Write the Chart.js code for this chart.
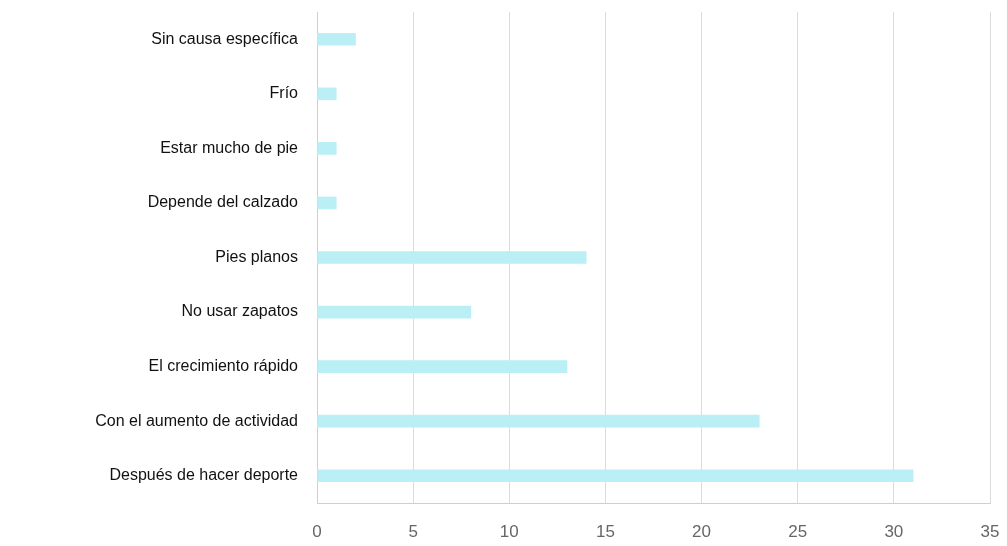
<!DOCTYPE html>
<html>
<head>
<meta charset="utf-8">
<script src="https://cdn.jsdelivr.net/npm/chart.js@4"></script>
<style>
  html, body { margin: 0; padding: 0; background: #fff; }
  #wrap { width: 1007px; height: 546px; position: relative; }
</style>
</head>
<body>
<div id="wrap"><canvas id="causas-canvas"></canvas></div>
<script>
var causas = [
    'Sin causa específica',
    'Frío',
    'Estar mucho de pie',
    'Depende del calzado',
    'Pies planos',
    'No usar zapatos',
    'El crecimiento rápido',
    'Con el aumento de actividad',
    'Después de hacer deporte'
];
var respuestas = [2, 1, 1, 1, 14, 8, 13, 23, 31];
var ticksX = [0, 5, 10, 15, 20, 25, 30, 35];

var colorBarra = '#b9eff5';
var colorRejilla = '#dcdcdc';

var ctx = document.getElementById('causas-canvas').getContext('2d');

var chart = new Chart(ctx, {
    type: 'bar',
    data: {
        labels: causas,
        datasets: [{
            data: respuestas,
            backgroundColor: colorBarra,
            borderWidth: 0,
            barThickness: 12
        }]
    },
    options: {
        indexAxis: 'y',
        responsive: true,
        maintainAspectRatio: false,
        animation: false,
        layout: {
            padding: { top: 12, right: 17, bottom: 0, left: 0 }
        },
        plugins: {
            legend: { display: false },
            tooltip: { enabled: false }
        },
        scales: {
            x: {
                min: 0,
                max: 35,
                afterBuildTicks: function (scale) {
                    scale.ticks = ticksX.map(function (v) { return { value: v }; });
                },
                grid: {
                    color: colorRejilla,
                    drawTicks: false
                },
                border: { color: '#cfcfcf' },
                ticks: {
                    padding: 19,
                    color: '#666',
                    font: { family: 'Liberation Sans, Arial, sans-serif', size: 17 }
                },
                afterFit: function (scale) {
                    scale.height = 43;
                    scale.paddingLeft = 0;
                    scale.paddingRight = 0;
                }
            },
            y: {
                grid: { display: false, drawTicks: false },
                border: { color: '#cfcfcf' },
                ticks: {
                    padding: 19,
                    color: '#111',
                    font: { family: 'Liberation Sans, Arial, sans-serif', size: 16 }
                },
                afterFit: function (scale) {
                    scale.width = 317;
                    scale.paddingTop = 0;
                    scale.paddingBottom = 0;
                }
            }
        }
    }
});
</script>
</body>
</html>
